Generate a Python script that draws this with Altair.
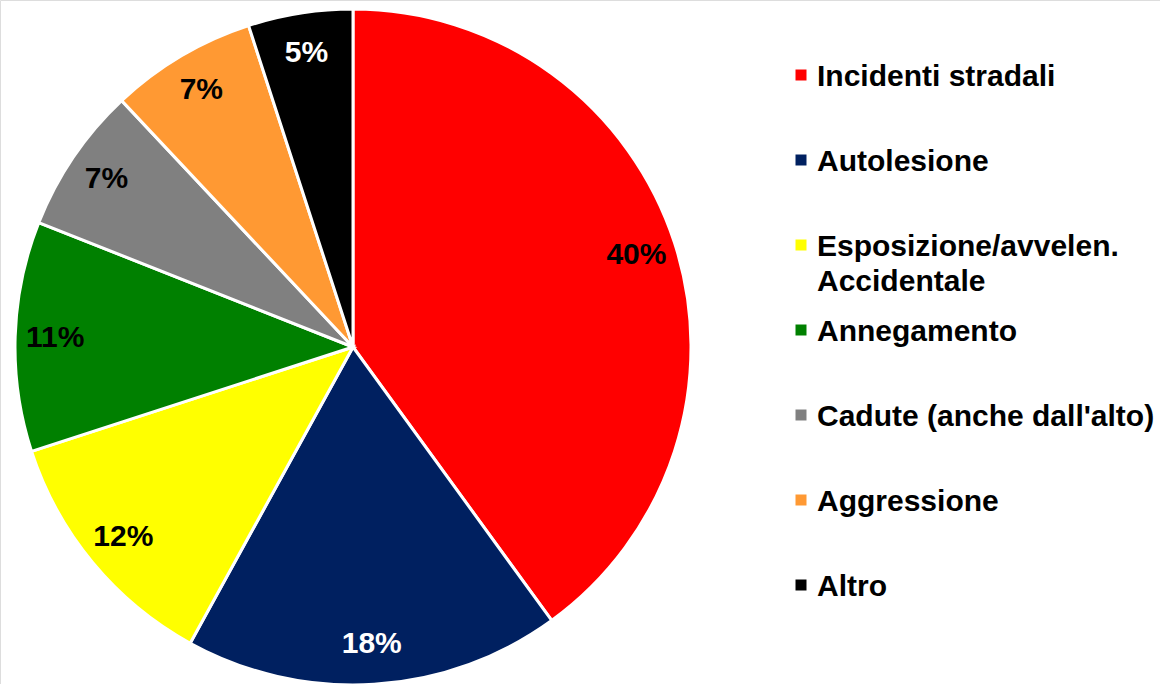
import altair as alt
import pandas as pd

categories = [
    "Incidenti stradali",
    "Autolesione",
    "Esposizione/avvelen.\nAccidentale",
    "Annegamento",
    "Cadute (anche dall'alto)",
    "Aggressione",
    "Altro",
]
shares = [40, 18, 12, 11, 7, 7, 5]
colors = ["#FF0000", "#002060", "#FFFF00", "#008000", "#808080", "#FF9933", "#000000"]
white_label = ["Autolesione", "Altro"]

df = pd.DataFrame({
    "cat": categories,
    "share": shares,
    "order": list(range(len(categories))),
})
df["label"] = df["share"].astype(str) + "%"

FONT = "Liberation Sans"
color_scale = alt.Scale(domain=categories, range=colors)

base = alt.Chart(df)

pie = base.mark_arc(
    outerRadius=338, stroke="white", strokeWidth=3, x=353, y=347
).encode(
    theta=alt.Theta("share:Q", stack=True),
    color=alt.Color("cat:N", scale=color_scale, legend=None),
    order=alt.Order("order:Q"),
)

pct = base.mark_text(
    radius=298, font=FONT, fontSize=30, fontWeight="bold", x=353, y=347
).encode(
    theta=alt.Theta("share:Q", stack=True),
    text="label:N",
    order=alt.Order("order:Q"),
    color=alt.condition(
        alt.FieldOneOfPredicate(field="cat", oneOf=white_label),
        alt.value("white"),
        alt.value("black"),
    ),
)

legend_y = alt.Y(
    "cat:N", sort=categories, axis=None,
    scale=alt.Scale(type="point", range=[75, 585], padding=0),
)

swatch = base.mark_square(size=121, opacity=1, x=801).encode(
    y=legend_y,
    color=alt.Color("cat:N", scale=color_scale, legend=None),
)

names = base.mark_text(
    align="left", baseline="alphabetic", dy=11, x=817, lineBreak="\n",
    font=FONT, fontSize=30, fontWeight="bold", color="black", lineHeight=35,
).encode(
    y=legend_y,
    text="cat:N",
)

chart = alt.layer(pie, pct, swatch, names).properties(
    width=1160, height=684, padding=0, autosize=alt.AutoSizeParams(type="none"),
).configure_view(stroke=None).configure(background="white")

chart.save("out.html", embed_options={"renderer": "svg", "actions": False})
